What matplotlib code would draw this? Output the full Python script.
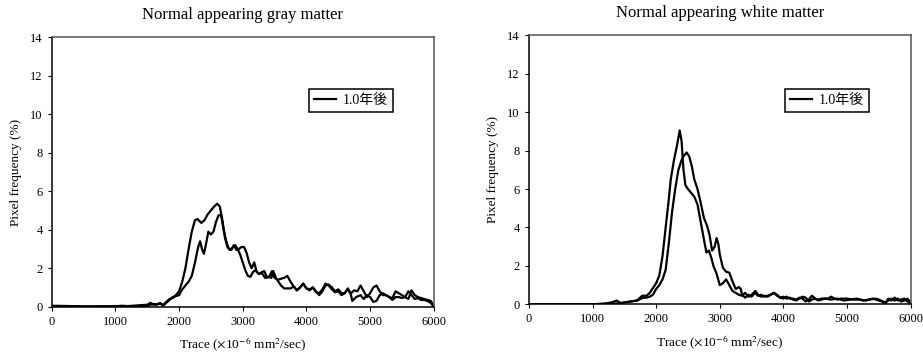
import matplotlib
matplotlib.use("Agg")
import matplotlib.pyplot as plt

plt.rcParams['font.family'] = ['Liberation Serif', 'Noto Sans CJK JP']
plt.rcParams['mathtext.fontset'] = 'stix'

# ---- Gray matter data ----
gray_a_x = [0, 500, 1000, 1100, 1200, 1300, 1400, 1500, 1550, 1600, 1700, 1750, 1800, 1850, 1900, 1950,
            2000, 2050, 2100, 2150, 2200, 2250, 2290, 2350, 2400, 2450, 2500, 2550, 2600, 2640, 2680,
            2720, 2760, 2800, 2850, 2880, 2920, 2960, 3000, 3040, 3080, 3120, 3160, 3200, 3250, 3300,
            3350, 3400, 3450, 3480, 3520, 3560, 3600, 3650, 3700, 3750, 3800, 3850, 3900, 3950, 4000,
            4050, 4100, 4150, 4200, 4250, 4300, 4350, 4400, 4450, 4500, 4550, 4600, 4650, 4700, 4750,
            4800, 4850, 4900, 4950, 5000, 5050, 5100, 5150, 5200, 5250, 5300, 5350, 5400, 5450, 5500,
            5550, 5600, 5650, 5700, 5750, 5800, 5850, 5900, 5950, 6000]
gray_a_y = [0.05, 0.02, 0.02, 0.05, 0.03, 0.05, 0.08, 0.1, 0.2, 0.1, 0.15, 0.1, 0.25, 0.4, 0.45, 0.6,
            0.8, 1.3, 2.0, 3.0, 3.9, 4.5, 4.55, 4.35, 4.5, 4.8, 5.0, 5.2, 5.35, 5.2, 4.5,
            3.6, 3.1, 2.95, 3.1, 3.2, 3.0, 2.7, 2.3, 1.9, 1.6, 1.55, 1.8, 1.9, 1.7, 1.75,
            1.5, 1.55, 1.5, 1.85, 1.5, 1.3, 1.1, 0.95, 0.95, 0.95, 1.05, 0.85, 1.0, 1.2, 0.95,
            0.9, 1.0, 0.75, 0.7, 0.9, 1.2, 1.1, 0.9, 0.75, 0.8, 0.6, 0.7, 0.9, 0.7, 0.85,
            0.8, 1.1, 0.8, 0.5, 0.7, 1.0, 1.1, 0.8, 0.6, 0.6, 0.5, 0.35, 0.5, 0.5, 0.45,
            0.5, 0.8, 0.6, 0.4, 0.45, 0.35, 0.35, 0.3, 0.2, 0.0]

gray_b_x = [0, 500, 1000, 1500, 1600, 1650, 1700, 1750, 1800, 1850, 1900, 1950, 2000, 2050, 2100, 2150,
            2200, 2250, 2300, 2330, 2360, 2390, 2420, 2460, 2500, 2540, 2580, 2620, 2660, 2700, 2740,
            2780, 2820, 2860, 2900, 2940, 2980, 3020, 3060, 3100, 3140, 3180, 3220, 3260, 3300, 3340,
            3380, 3420, 3460, 3500, 3550, 3600, 3650, 3700, 3750, 3800, 3850, 3900, 3950, 4000, 4050,
            4100, 4150, 4200, 4250, 4300, 4350, 4400, 4450, 4500, 4550, 4600, 4650, 4700, 4720, 4780,
            4850, 4900, 4950, 5000, 5050, 5100, 5150, 5200, 5250, 5300, 5350, 5400, 5450, 5500, 5550,
            5600, 5650, 5700, 5750, 5800, 5850, 5900, 5950, 6000]
gray_b_y = [0.0, 0.0, 0.02, 0.05, 0.15, 0.1, 0.2, 0.05, 0.2, 0.35, 0.5, 0.55, 0.6, 0.9, 1.1, 1.3,
            1.6, 2.3, 3.1, 3.4, 3.0, 2.75, 3.2, 3.9, 3.75, 3.9, 4.4, 4.75, 4.75, 4.0, 3.4,
            3.0, 2.95, 3.2, 2.95, 3.0, 3.1, 3.1, 2.8, 2.3, 2.0, 2.3, 1.8, 1.7, 1.8, 1.85,
            1.5, 1.6, 1.85, 1.5, 1.4, 1.45, 1.5, 1.6, 1.3, 1.05, 0.85, 1.0, 1.2, 0.95, 0.85,
            1.0, 0.8, 0.6, 0.8, 1.1, 1.15, 1.0, 0.8, 0.9, 0.7, 0.7, 0.95, 0.6, 0.3, 0.5,
            0.6, 0.4, 0.6, 0.5, 0.25, 0.3, 0.6, 0.7, 0.6, 0.5, 0.45, 0.8, 0.7, 0.6, 0.5,
            0.4, 0.85, 0.6, 0.5, 0.45, 0.4, 0.35, 0.3, 0.05]

# ---- White matter data ----
white_a_x = [0, 500, 1000, 1200, 1300, 1380, 1450, 1500, 1600, 1700, 1780, 1850, 1900, 1950, 2000, 2050,
             2100, 2150, 2200, 2230, 2280, 2330, 2370, 2400, 2430, 2460, 2500, 2550, 2600, 2650, 2700,
             2750, 2790, 2830, 2870, 2900, 2950, 3000, 3050, 3100, 3150, 3200, 3250, 3300, 3350, 3400,
             3450, 3500, 3560, 3600, 3650, 3700, 3750, 3800, 3850, 3900, 3950, 4000, 4050, 4100, 4150,
             4200, 4250, 4300, 4350, 4400, 4450, 4500, 4550, 4600, 4650, 4700, 4750, 4800, 4850, 4900,
             5000, 5100, 5200, 5300, 5400, 5500, 5550, 5600, 5650, 5700, 5750, 5800, 5850, 5900, 5950, 6000]
white_a_y = [0.0, 0.0, 0.0, 0.05, 0.1, 0.2, 0.05, 0.1, 0.15, 0.2, 0.45, 0.45, 0.6, 0.85, 1.1, 1.5,
             2.5, 4.0, 5.5, 6.5, 7.5, 8.3, 9.05, 8.5, 7.0, 6.2, 6.0, 5.8, 5.6, 5.2, 4.3,
             3.4, 2.7, 2.8, 2.4, 2.0, 1.6, 1.0, 1.1, 1.3, 1.0, 0.7, 0.6, 0.5, 0.45, 0.6,
             0.4, 0.5, 0.7, 0.5, 0.4, 0.45, 0.4, 0.5, 0.6, 0.5, 0.35, 0.3, 0.4, 0.3, 0.3,
             0.25, 0.35, 0.3, 0.15, 0.25, 0.45, 0.3, 0.25, 0.3, 0.3, 0.3, 0.4, 0.3, 0.25, 0.3,
             0.3, 0.25, 0.25, 0.2, 0.3, 0.2, 0.15, 0.05, 0.3, 0.2, 0.35, 0.2, 0.25, 0.3, 0.15, 0.05]

white_b_x = [0, 500, 1000, 1300, 1400, 1500, 1600, 1700, 1800, 1850, 1900, 1950, 2000, 2050, 2100, 2150,
             2200, 2250, 2300, 2350, 2400, 2430, 2480, 2520, 2560, 2600, 2650, 2700, 2750, 2800, 2840,
             2880, 2920, 2950, 2980, 3000, 3050, 3100, 3150, 3200, 3250, 3300, 3330, 3350, 3400, 3450,
             3500, 3550, 3600, 3650, 3700, 3750, 3800, 3850, 3900, 3950, 4000, 4050, 4100, 4150, 4200,
             4250, 4300, 4350, 4400, 4450, 4500, 4550, 4650, 4750, 4850, 4950, 5050, 5150, 5250, 5350,
             5450, 5500, 5600, 5650, 5700, 5750, 5800, 5850, 5900, 5950, 6000]
white_b_y = [0.0, 0.0, 0.0, 0.02, 0.05, 0.1, 0.15, 0.2, 0.35, 0.35, 0.4, 0.5, 0.8, 1.0, 1.3, 1.8,
             3.2, 4.8, 6.0, 7.0, 7.5, 7.7, 7.9, 7.7, 7.2, 6.5, 6.0, 5.3, 4.5, 4.1, 3.6,
             2.8, 3.0, 3.45, 3.1, 2.6, 1.9, 1.7, 1.65, 1.2, 0.8, 0.9, 0.8, 0.5, 0.35, 0.5,
             0.4, 0.6, 0.45, 0.5, 0.4, 0.45, 0.5, 0.6, 0.45, 0.35, 0.4, 0.3, 0.35, 0.25, 0.2,
             0.3, 0.4, 0.35, 0.15, 0.25, 0.3, 0.2, 0.3, 0.25, 0.3, 0.2, 0.25, 0.3, 0.2, 0.25,
             0.3, 0.25, 0.1, 0.2, 0.3, 0.2, 0.3, 0.15, 0.2, 0.3, 0.1]

titles = ["Normal appearing gray matter", "Normal appearing white matter"]
legend_label = "1.0年後"
xticks = [0, 1000, 2000, 3000, 4000, 5000, 6000]
yticks = [0, 2, 4, 6, 8, 10, 12, 14]
xlabel = r"Trace ($\times$10$^{-6}$ mm$^{2}$/sec)"
ylabel = "Pixel frequency (%)"

fig = plt.figure(figsize=(9.23, 3.56), dpi=100)
ax1 = fig.add_axes([0.056, 0.1385, 0.414, 0.757])
ax2 = fig.add_axes([0.573, 0.145, 0.4136, 0.756])

panels = [
    (ax1, gray_a_x, gray_a_y, gray_b_x, gray_b_y, titles[0], (0.893, 0.808)),
    (ax2, white_a_x, white_a_y, white_b_x, white_b_y, titles[1], (0.891, 0.80)),
]

for ax, ax_x, ax_y, bx, by, title, anchor in panels:
    ln, = ax.plot(ax_x, ax_y, color='black', lw=1.6, label=legend_label)
    ax.plot(bx, by, color='black', lw=1.6)
    ax.set_xlim(0, 6000)
    ax.set_ylim(0, 14)
    ax.set_xticks(xticks)
    ax.set_yticks(yticks)
    ax.tick_params(direction='out', length=3, width=0.8, labelsize=9, colors='black')
    ax.set_title(title, fontsize=12, pad=13)
    ax.set_xlabel(xlabel, fontsize=9.5, labelpad=6)
    ax.set_ylabel(ylabel, fontsize=9.5, labelpad=6)
    for s in ax.spines.values():
        s.set_linewidth(1.1)
        s.set_color('black')
    ax.spines['top'].set_color('#555555')
    ax.spines['right'].set_color('#555555')
    leg = ax.legend(handles=[ln], loc='upper right', bbox_to_anchor=anchor,
                    fancybox=False, edgecolor='black', framealpha=1,
                    fontsize=10, handlelength=1.6, handletextpad=0.5,
                    borderpad=0.35, borderaxespad=0)
    leg.get_frame().set_linewidth(1.1)

fig.savefig("out.png", dpi=100)
